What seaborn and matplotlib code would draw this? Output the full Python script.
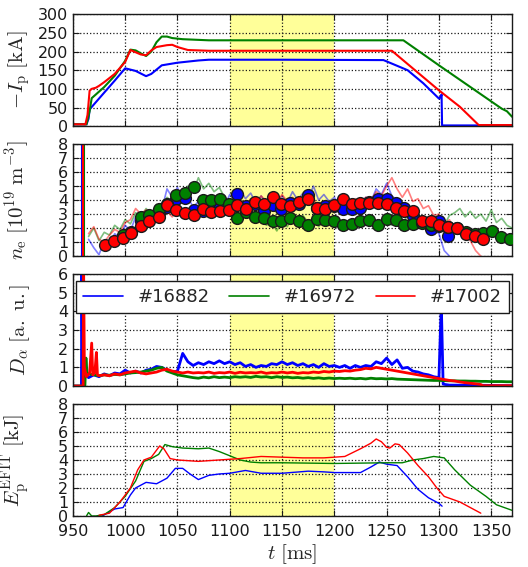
import numpy as np
import seaborn as sns
import matplotlib.pyplot as plt
from matplotlib.lines import Line2D

# shots
shots = ["#16882", "#16972", "#17002"]
colors = ["#0000ff", "#008000", "#ff0000"]

# --- plasma current [kA]
ip_blue_t = [950, 963, 965, 966, 980, 990, 1000, 1010, 1020, 1025, 1035, 1050, 1070, 1080, 1150, 1247,
             1270, 1285, 1300, 1302, 1302.5, 1303, 1370]
ip_blue = [5, 5, 20, 45, 90, 122, 155, 148, 134, 140, 163, 170, 176, 178, 178, 177,
           150, 115, 74, 80, 85, 2, 2]
ip_green_t = [950, 963, 966, 968, 972, 980, 990, 1000, 1005, 1010, 1015, 1020, 1025, 1030, 1035, 1040,
              1045, 1055, 1080, 1266, 1300, 1330, 1360, 1365, 1370]
ip_green = [5, 5, 40, 75, 85, 105, 135, 175, 205, 203, 195, 188, 200, 225, 240, 240,
            236, 233, 230, 230, 163, 105, 47, 40, 25]
ip_red_t = [950, 962, 964, 966, 968, 972, 975, 980, 990, 1000, 1005, 1010, 1015, 1020, 1025, 1030,
            1040, 1045, 1050, 1060, 1080, 1255, 1300, 1320, 1338, 1370]
ip_red = [5, 5, 30, 95, 100, 103, 108, 118, 140, 172, 204, 198, 192, 190, 203, 212,
          217, 218, 212, 204, 202, 202, 96, 52, 3, 3]

# --- line-integrated density traces [1e19 m^-3], 5 ms samples
ne_blue = [1.2, 0.6, 0.1, 1.1, 0.8, 1.6, 1.3, 2.2, 1.8, 2.8,
           2.4, 3.2, 2.9, 3.6, 3.3, 4.8, 4.2, 4.9, 3.9, 4.2,
           3.5, 3.9, 3.4, 3.8, 3.5, 4.1, 3.6, 4.4, 3.9, 4.8,
           4.1, 4.5, 3.8, 4.3, 3.7, 4.5, 3.9, 4.3, 3.8, 4.6,
           4.0, 4.5, 4.1, 5.0, 4.0, 4.4, 3.9, 4.2, 3.6, 4.0,
           3.5, 3.9, 3.6, 4.2, 3.9, 4.8, 4.4, 5.2, 4.3, 4.0,
           3.4, 3.6, 2.9, 3.0, 2.4, 2.5, 1.9, 1.6, 0.4, 0.0]
ne_green = [1.4, 2.0, 1.1, 1.7, 1.5, 2.2, 1.9, 2.6, 2.3, 3.1,
            2.8, 3.4, 3.0, 3.7, 3.4, 4.2, 3.9, 4.7, 4.3, 5.0,
            4.6, 5.6, 4.8, 5.2, 4.6, 4.9, 4.2, 3.8, 3.3, 3.5,
            2.9, 3.0, 2.5, 2.8, 2.2, 2.4, 1.8, 2.5, 2.1, 2.8,
            2.3, 2.9, 2.4, 2.7, 2.1, 2.6, 2.2, 2.5, 2.0, 2.4,
            2.1, 2.6, 2.2, 2.7, 2.3, 2.5, 2.1, 2.6, 2.2, 2.7,
            2.3, 2.9, 2.4, 2.8, 2.2, 2.6, 2.1, 2.4, 2.2, 2.9,
            3.1, 3.4, 2.8, 3.2, 2.7, 3.0, 2.5, 3.3, 2.4, 2.7,
            2.2, 2.0]
ne_red = [1.6, 2.1, 1.2, 1.0, 1.5, 1.9, 1.7, 2.4, 2.6, 3.4,
          3.0, 3.3, 2.9, 3.1, 2.6, 3.2, 2.8, 3.4, 2.7, 3.0,
          2.6, 3.1, 2.8, 3.4, 3.0, 3.5, 3.2, 3.6, 3.4, 3.9,
          3.6, 4.1, 3.7, 4.3, 3.9, 4.2, 3.8, 4.4, 3.9, 4.2,
          3.8, 4.3, 3.7, 4.0, 3.6, 3.9, 3.5, 3.8, 3.6, 4.0,
          3.7, 4.1, 3.8, 4.2, 4.0, 4.6, 4.3, 5.0, 5.6, 4.8,
          4.2, 4.8, 3.9, 4.1, 3.4, 3.6, 2.9, 3.0, 2.3, 2.6,
          1.9, 2.2, 1.4, 1.1, 0.4, 0.0]
ne_spike_t = [958.5, 961.0, 959.5]

# Thomson scattering points
ts_t = [981, 989, 998, 1006, 1015, 1023, 1032, 1040, 1049, 1057, 1066, 1074, 1082, 1091, 1099, 1107,
        1116, 1124, 1133, 1141, 1149, 1158, 1166, 1175, 1183, 1191, 1200, 1208, 1217, 1225, 1233, 1242,
        1250, 1259, 1267, 1275, 1284, 1292, 1300, 1309, 1317, 1326, 1334, 1342, 1351, 1359, 1368]
ts_blue = [np.nan, np.nan, np.nan, 1.75, 2.5, 2.7, 3.1, 3.5, 4.1, 4.15, 3.27, 3.2, 3.3, 3.5, 3.5, 4.42,
           3.6, 3.75, 3.2, 3.65, 3.34, 3.8, 3.7, 4.35, 3.47, 3.6, 3.6, 3.4, 3.34, 3.44, 3.9, 4.06,
           4.06, 3.82, 3.44, 2.87, 2.45, 1.96, 2.5, 1.44, np.nan, np.nan, np.nan, np.nan, np.nan, np.nan, np.nan]
ts_green = [np.nan, np.nan, 1.5, np.nan, 2.8, 2.92, 3.39, 3.7, 4.35, 4.54, 4.94, 4.04, 4.04, 4.06, 3.75, 2.75,
            3.15, 2.8, 2.75, 2.51, 2.51, 2.75, 2.51, 2.25, 2.63, 2.55, 2.51, 2.25, 2.32, 2.48, 2.6, 2.2,
            2.65, 2.6, 2.2, 2.32, 2.39, 2.2, 2.15, 2.1, 2.0, 1.7, 1.6, 1.63, 1.82, 1.37, 1.23]
ts_red = [0.82, 1.1, 1.32, 1.63, 2.18, 2.49, 2.8, 3.63, 3.27, 3.08, 2.92, 3.34, 3.15, 3.2, 3.27, 3.68,
          3.34, 3.87, 3.75, 4.23, 3.75, 3.58, 3.87, 4.06, 3.47, 3.34, 3.68, 4.06, 3.75, 3.8, 3.8, 3.82,
          3.7, 3.44, 3.22, 3.22, 2.51, 2.51, 2.25, 2.08, 2.01, 1.6, 1.41, 1.24, np.nan, np.nan, np.nan]

# --- D-alpha [a.u.]
da_blue_t = [950, 958.2, 958.6, 959.2, 962] + list(range(965, 1301, 5)) + [1302, 1302.5, 1304, 1310, 1340, 1370]
da_blue = ([0, 0, 7.0, 1.0, 0.6] +
           [0.45, 0.6, 0.5, 0.65, 0.55, 0.7, 0.65, 0.85, 0.7, 0.8,
            0.7, 0.85, 0.9, 1.05, 1.0, 0.85, 0.75, 0.8, 1.75, 1.3,
            1.1, 1.25, 1.15, 1.3, 1.2, 1.35, 1.2, 1.3, 1.15, 1.25,
            1.05, 1.15, 1.0, 1.1, 1.05, 1.2, 1.15, 1.3, 1.15, 1.25,
            1.1, 1.2, 1.05, 1.15, 1.0, 1.2, 1.05, 1.1, 1.0, 1.1,
            0.95, 1.1, 1.0, 1.1, 1.05, 1.3, 1.2, 1.5, 1.15, 1.4,
            0.95, 1.0, 0.8, 0.75, 0.65, 0.6, 0.5, 0.45] +
           [4.0, 3.8, 0.1, 0.05, 0.04, 0.02])
da_green_t = [950, 961.5, 962.5, 963.5] + list(range(965, 1371, 5))
da_green = ([0, 0, 1.5, 0.7] +
            [0.65, 0.6, 0.55, 0.6, 0.58, 0.62, 0.6, 0.65, 0.7, 0.72,
             0.75, 0.8, 0.85, 0.95, 1.0, 0.8, 0.7, 0.6, 0.55, 0.5,
             0.45, 0.42, 0.48, 0.44, 0.5, 0.45, 0.48, 0.45, 0.5, 0.47,
             0.5, 0.46, 0.52, 0.48, 0.5, 0.45, 0.5, 0.46, 0.48, 0.44,
             0.46, 0.42, 0.45, 0.41, 0.44, 0.4, 0.43, 0.4, 0.42, 0.4,
             0.42, 0.39, 0.41, 0.38, 0.42, 0.39, 0.4, 0.38, 0.4, 0.37,
             0.36, 0.35, 0.34, 0.33, 0.32, 0.31, 0.3, 0.3, 0.29, 0.28,
             0.28, 0.27, 0.27, 0.26, 0.26, 0.25, 0.25, 0.24, 0.24, 0.24,
             0.23, 0.23])
da_red_t = [950, 959.8, 960.2, 961, 963, 966, 968, 969, 971, 972.5, 973.5] + list(range(975, 1341, 5)) + [1342, 1370]
da_red = ([0, 0, 7.0, 1.0, 0.5, 0.7, 2.3, 0.6, 0.7, 1.8, 0.6] +
          [0.55, 0.6, 0.55, 0.65, 0.6, 0.7, 0.75, 0.8, 0.7, 0.65,
           0.7, 0.75, 0.85, 0.9, 0.8, 0.75, 0.7, 0.75, 0.7, 0.72,
           0.7, 0.75, 0.68, 0.72, 0.7, 0.75, 0.68, 0.74, 0.7, 0.72,
           0.7, 0.75, 0.68, 0.72, 0.7, 0.75, 0.7, 0.74, 0.68, 0.72,
           0.7, 0.75, 0.72, 0.78, 0.75, 0.8, 0.78, 0.82, 0.8, 0.85,
           0.88, 0.95, 0.92, 1.0, 0.95, 0.9, 0.85, 0.8, 0.75, 0.7,
           0.65, 0.6, 0.55, 0.5, 0.45, 0.4, 0.35, 0.3, 0.27, 0.22,
           0.18, 0.15, 0.12, 0.08] +
          [0.02, 0.02])

# --- stored energy EFIT [kJ]
ep_blue_t = [978, 990, 998, 1005, 1010, 1020, 1030, 1040, 1048, 1055, 1062, 1070, 1080, 1090, 1100, 1115,
             1130, 1150, 1175, 1190, 1200, 1225, 1235, 1243, 1250, 1260, 1270, 1280, 1290, 1300, 1303]
ep_blue = [0.0, 0.5, 0.6, 1.5, 2.0, 2.4, 2.3, 2.7, 3.4, 3.4, 3.0, 2.6, 2.9, 3.0, 3.05, 3.25,
           3.05, 3.05, 3.2, 3.15, 3.1, 3.1, 3.5, 3.85, 3.7, 3.6, 2.8, 1.9, 1.3, 0.9, 0.7]
ep_green_t = [963, 965, 968, 972, 980, 990, 1000, 1010, 1018, 1025, 1032, 1038, 1045, 1055, 1070, 1080,
              1090, 1100, 1110, 1120, 1130, 1150, 1200, 1250, 1265, 1275, 1285, 1295, 1305, 1315, 1330,
              1345, 1355, 1370]
ep_green = [0.0, 0.25, 0.0, 0.0, 0.1, 0.6, 1.4, 2.5, 3.9, 4.1, 4.4, 5.1, 4.95, 4.85, 4.8, 4.85,
            4.6, 4.3, 4.0, 3.85, 3.8, 3.8, 3.75, 3.8, 3.8, 4.0, 4.1, 4.25, 4.15, 3.3, 2.2,
            1.4, 0.8, 0.4]
ep_red_t = [975, 985, 995, 1005, 1012, 1018, 1025, 1033, 1037, 1043, 1050, 1070, 1090, 1110, 1130, 1150,
            1170, 1190, 1210, 1225, 1235, 1240, 1245, 1250, 1253, 1258, 1262, 1270, 1280, 1290, 1298,
            1305, 1320, 1340]
ep_red = [0.05, 0.2, 1.0, 2.0, 3.3, 4.0, 4.2, 5.0, 4.8, 4.1, 4.0, 3.9, 4.0, 4.1, 4.25, 4.2,
          4.15, 4.15, 4.25, 4.8, 5.2, 5.5, 5.3, 4.9, 4.85, 5.15, 5.1, 4.5, 3.6, 2.8, 2.0,
          1.4, 1.0, 0.2]

flat_top = (1100, 1200)

sns.set_theme(style="ticks")
plt.rcParams.update({
    "font.family": ["DejaVu Sans"],
    "mathtext.fontset": "cm",
    "font.size": 11,
    "xtick.labelsize": 11.5,
    "ytick.labelsize": 11.5,
    "axes.edgecolor": "k",
    "axes.linewidth": 1.0,
    "axes.grid": True,
    "grid.color": "k",
    "grid.linestyle": ":",
    "grid.linewidth": 0.9,
    "xtick.direction": "in",
    "ytick.direction": "in",
    "xtick.top": True,
    "ytick.right": True,
    "xtick.color": "k",
    "ytick.color": "k",
})

fig, axes = plt.subplots(4, 1, figsize=(5.28, 5.67), dpi=100, sharex=True)
fig.subplots_adjust(left=0.138, right=0.970, top=0.975, bottom=0.09, hspace=0.16)

for ax in axes:
    ax.axvspan(*flat_top, color="yellow", alpha=0.4, lw=0, zorder=0)

ylab_size = 15

# panel 1: plasma current
ax = axes[0]
for t, v, c in zip([ip_blue_t, ip_green_t, ip_red_t], [ip_blue, ip_green, ip_red], colors):
    sns.lineplot(x=t, y=v, ax=ax, color=c, lw=1.5, estimator=None, sort=False)
ax.set_ylim(0, 300)
ax.set_yticks(range(0, 301, 50))
ax.set_ylabel(r"$-I_{\rm p}\ [\rm kA]$", fontsize=ylab_size)

# panel 2: density
ax = axes[1]
ne_t = [np.arange(965, 1311, 5), np.arange(965, 1371, 5), np.arange(965, 1341, 5)]
for t, v, c in zip(ne_t, [ne_blue, ne_green, ne_red], colors):
    sns.lineplot(x=t, y=v, ax=ax, color=c, lw=1.2, alpha=0.5, estimator=None, sort=False)
for ts, c in zip(ne_spike_t, colors):
    ax.vlines(ts, 0, 8, color=c, lw=1.5)
for v, c in zip([ts_blue, ts_green, ts_red], colors):
    sns.scatterplot(x=ts_t, y=v, ax=ax, color=c, edgecolor="k", linewidth=1, s=72, zorder=5)
ax.set_ylim(0, 8)
ax.set_yticks(range(0, 9))
ax.set_ylabel(r"$n_{\rm e}\ [10^{19}\ \rm m^{-3}]$", fontsize=ylab_size)

# panel 3: D-alpha
ax = axes[2]
for t, v, c in zip([da_blue_t, da_green_t, da_red_t], [da_blue, da_green, da_red], colors):
    sns.lineplot(x=t, y=v, ax=ax, color=c, lw=2.0, estimator=None, sort=False)
ax.set_ylim(0, 6)
ax.set_yticks(range(0, 7))
ax.set_ylabel(r"$D_{\alpha}\ [\rm a.\ u.]$", fontsize=ylab_size)
handles = [Line2D([], [], color=c, lw=1.2) for c in colors]
leg = ax.legend(handles, shots, ncol=3, mode="expand", loc="upper left",
                bbox_to_anchor=(0.007, 0.94, 0.986, 0.0), fontsize=13,
                frameon=True, fancybox=False, handlelength=2.2, borderaxespad=0)
leg.get_frame().set_edgecolor("k")
leg.get_frame().set_linewidth(1.0)
leg.get_frame().set_alpha(1)

# panel 4: stored energy
ax = axes[3]
for t, v, c in zip([ep_blue_t, ep_green_t, ep_red_t], [ep_blue, ep_green, ep_red], colors):
    sns.lineplot(x=t, y=v, ax=ax, color=c, lw=1.0, estimator=None, sort=False)
ax.set_ylim(0, 8)
ax.set_yticks(range(0, 9))
ax.set_ylabel(r"$E_{\rm p}^{\rm EFIT}\ [\rm kJ]$", fontsize=ylab_size)
ax.set_xlim(950, 1370)
ax.set_xticks(range(950, 1351, 50))
ax.set_xlabel(r"$t\ [\rm ms]$", fontsize=15, labelpad=2)

for ax in axes:
    ax.tick_params(length=4, width=0.8)
axes[3].tick_params(axis="x", pad=6)
fig.align_ylabels(axes)

plt.savefig("out.png", dpi=100)
